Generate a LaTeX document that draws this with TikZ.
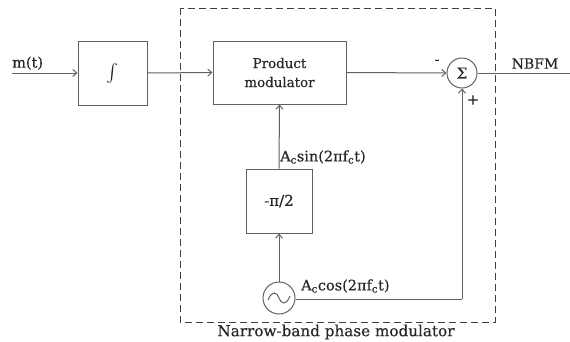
\documentclass[tikz,border=0pt]{standalone}
\usepackage{fontspec}
\setmainfont{DejaVu Serif}
\newfontfamily\labfont[FakeBold=0.4]{DejaVu Serif}
\usetikzlibrary{arrows.meta,calc}
\begin{document}
\begin{tikzpicture}[x=1pt,y=-1pt,
  line/.style={draw=black!62,line width=1pt},
  arr/.style={line,-{Straight Barb[length=4pt,width=7pt]}},
  blk/.style={draw=black!62,line width=1pt,minimum width=#1,inner sep=0pt},
  fs/.style={font=\labfont\fontsize{#1}{19}\selectfont},
  lbl/.style={text=black!85,inner sep=0pt}]
\useasboundingbox (0,0) rectangle (570,341);
% dashed box
\draw[black!75,line width=1pt,dash pattern=on 7pt off 4pt] (180,8) rectangle (495,322);
\node[lbl,fs=15.2] (nbpm) at (336,332) {Narrow-band phase modulator};
% blocks
\node[blk=69pt,minimum height=64pt,text=black!85] (int) at (112.5,73) {\scalebox{1.8}{$\int$}};
\node[blk=133pt,minimum height=63pt,align=center,text=black!85,fs=13.4] (pm) at (279.5,72.5) {Product\\modulator};
\node[blk=66pt,minimum height=64pt,text=black!85,fs=15] (ph) at (279,201) {-π/2};
\node[circle,draw=black!62,line width=1pt,minimum size=30pt,inner sep=0pt,text=black!85,fs=15] (sum) at (462,73) {Σ};
\node[circle,draw=black!62,line width=1pt,minimum size=32pt,inner sep=0pt] (osc) at (279,298) {};
\draw[black!62,line width=1pt] ($(osc.center)+(-11,2)$) .. controls ($(osc.center)+(-7,-8)$) and ($(osc.center)+(-2,-6)$) .. (osc.center) .. controls ($(osc.center)+(2,6)$) and ($(osc.center)+(7,8)$) .. ($(osc.center)+(11,-2)$);
% coordinates
\coordinate (in) at (12,73);
\coordinate (out) at (570,73);
\coordinate (corner) at (462,299);
% labels
\node[lbl,fs=14.5,anchor=south west] (mt) at (12,70) {m(t)};
\node[lbl,fs=14,anchor=south] (nbfm) at (535,69) {NBFM};
\node[lbl,fs=14] (minus) at (437,62) {-};
\node[lbl,fs=15] (plus) at (473,100) {+};
\node[lbl,fs=14.5,anchor=west] (sinl) at (280,157) {A\textsubscript{c}sin(2πf\textsubscript{c}t)};
\node[lbl,fs=14.5,anchor=west] (cosl) at (301,286) {A\textsubscript{c}cos(2πf\textsubscript{c}t)};
% connectors
\draw[arr] (in) -- (int.west);
\draw[arr] (int.east) -- (pm.west);
\draw[arr] (pm.east) -- (sum.west);
\draw[line] (sum.east) -- (out);
\draw[arr] (osc.north) -- (ph.south);
\draw[arr] (ph.north) -- (pm.south);
\draw[line] (osc.east |- corner) -- (corner);
\draw[arr] (corner) -- (sum.south);
\end{tikzpicture}
\end{document}
